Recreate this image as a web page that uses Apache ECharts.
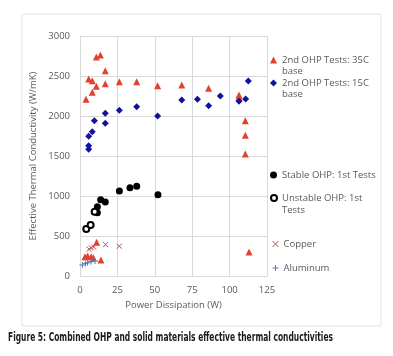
<!DOCTYPE html>
<html><head><meta charset="utf-8">
<script src="https://cdn.jsdelivr.net/npm/echarts@6/dist/echarts.min.js"></script>
<style>html,body{margin:0;padding:0;background:#fff}#c{width:393px;height:356px}</style>
</head><body><div id="c"></div>
<script>
// ---- data ----
const xTicks = [0, 25, 50, 75, 100, 125];
const yTicks = [0, 500, 1000, 1500, 2000, 2500, 3000];
const ohp35C = [[4.0,2210],[5.8,2462],[8.2,2441],[8.2,2296],[10.9,2371],[10.9,2737],[13.6,2762],[16.9,2566],[16.9,2404],[26.3,2429],[37.9,2429],[51.9,2379],[68,2387],[86,2346],[106.3,2262],[106.3,2233],[110.5,1941],[110.5,1759],[110.5,1525],[113,300],[3.3,242],[5.1,250],[7.4,242],[8.9,229],[11.1,421],[14,200]];
const ohp15C = [[5.8,1746],[5.8,1629],[5.8,1583],[8.2,1804],[9.6,1942],[16.9,2034],[16.9,1908],[26.3,2071],[37.9,2117],[51.9,2000],[68,2200],[78.5,2209],[86,2129],[93.8,2250],[106.3,2183],[110.7,2212],[112.5,2437]];
const stableOHP = [[11.6,791],[11.6,866],[13.8,954],[16.9,925],[26.3,1062],[33.4,1104],[37.9,1121],[52.1,1016]];
const unstableOHP = [[4.2,587],[7.1,637],[9.8,802]];
const copper = [[6,335],[7.5,352],[9.2,362],[17.1,392],[26.3,372]];
const aluminum = [[1.6,138],[3.6,155],[5.1,166],[7.4,179],[10,187]];
const seriesNames = ['2nd OHP Tests: 35C', '2nd OHP Tests: 15C', 'Stable OHP: 1st Tests', 'Unstable OHP: 1st', 'Copper', 'Aluminum'];
const caption = 'Figure 5: Combined OHP and solid materials effective thermal conductivities';

// ---- chart ----
const FONT = '"Open Sans", "Liberation Sans", sans-serif';
const GRAY = '#595959';
const crossPath = 'path://M0,0L10,10M10,0L0,10';
const plusPath = 'path://M5,0L5,10M0,5L10,5';

const chart = echarts.init(document.getElementById('c'), null, {renderer: 'canvas'});

function legendAt(name, top, size, extra) {
  return Object.assign({
    data: [name], left: 270, top: top, padding: 0, itemWidth: size || 7, itemHeight: size || 7,
    textStyle: {fontFamily: FONT, fontSize: 9.5, color: GRAY, lineHeight: 12},
    selectedMode: false
  }, extra || {});
}

// caption width fit
const cv = document.createElement('canvas').getContext('2d');
const capFont = 'bold 13px "Liberation Sans Narrow", "DejaVu Sans Condensed", sans-serif';
cv.font = capFont;
const capW = cv.measureText(caption).width;
const capScale = 325 / capW;

chart.setOption({
  animation: false,
  grid: {left: 80, right: 126, top: 36, bottom: 80},
  xAxis: {
    type: 'value', min: xTicks[0], max: xTicks[xTicks.length-1], interval: 25,
    name: 'Power Dissipation (W)', nameLocation: 'middle', nameGap: 23,
    nameTextStyle: {fontFamily: FONT, fontSize: 9.5, color: GRAY},
    axisLine: {show: true, lineStyle: {color: '#d9d9d9'}},
    axisTick: {show: false},
    axisLabel: {fontFamily: FONT, fontSize: 9.5, color: GRAY, margin: 9, formatter: v => String(v)},
    splitLine: {show: true, lineStyle: {color: '#d9d9d9'}}
  },
  yAxis: {
    type: 'value', min: yTicks[0], max: yTicks[yTicks.length-1], interval: 500,
    name: 'Effective Thermal Conductivity (W/mK)', nameLocation: 'middle', nameGap: 42,
    nameTextStyle: {fontFamily: FONT, fontSize: 9.5, color: GRAY},
    axisLine: {show: true, lineStyle: {color: '#d9d9d9'}},
    axisTick: {show: false},
    axisLabel: {fontFamily: FONT, fontSize: 9.5, color: GRAY, margin: 10, formatter: v => String(v)},
    splitLine: {show: true, lineStyle: {color: '#d9d9d9'}}
  },
  legend: [
    legendAt(seriesNames[0], 54),
    legendAt(seriesNames[1], 77),
    legendAt(seriesNames[2], 169),
    legendAt(seriesNames[3], 192, 6, {itemStyle: {borderWidth: 1}}),
    legendAt(seriesNames[4], 238, 6, {itemStyle: {borderWidth: 1}}),
    legendAt(seriesNames[5], 262, 6, {itemStyle: {borderWidth: 1}})
  ],
  graphic: [
    {type: 'rect', left: 19.5, top: 11.5, shape: {x: 0, y: 0, width: 359, height: 312},
     style: {fill: 'none', stroke: '#e3e3e3', lineWidth: 1}, silent: true},
    {type: 'text', left: 282, top: 66, style: {text: 'base', font: '9.5px ' + FONT, fill: GRAY}},
    {type: 'text', left: 282, top: 89, style: {text: 'base', font: '9.5px ' + FONT, fill: GRAY}},
    {type: 'text', left: 282, top: 205, style: {text: 'Tests', font: '9.5px ' + FONT, fill: GRAY}},
    {type: 'text', x: 8, y: 338, scaleX: capScale, style: {text: caption, font: capFont, fill: '#1a1a1a', textVerticalAlign: 'middle'}}
  ],
  series: [
    {name: seriesNames[0], type: 'scatter', data: ohp35C, symbol: 'triangle', symbolSize: 7,
     itemStyle: {color: '#e5402e', opacity: 1}},
    {name: seriesNames[1], type: 'scatter', data: ohp15C, symbol: 'diamond', symbolSize: 7,
     itemStyle: {color: '#1212a0', opacity: 1}},
    {name: seriesNames[2], type: 'scatter', data: stableOHP, symbol: 'circle', symbolSize: 7,
     itemStyle: {color: '#000000', opacity: 1}},
    {name: seriesNames[3], type: 'scatter', data: unstableOHP, symbol: 'emptyCircle', symbolSize: 6,
     itemStyle: {color: '#000000', borderColor: '#000000', borderWidth: 0.8, opacity: 1}},
    {name: seriesNames[4], type: 'scatter', data: copper, symbol: crossPath, symbolSize: 5,
     itemStyle: {color: 'none', borderColor: '#c0504d', borderWidth: 1, opacity: 1}},
    {name: seriesNames[5], type: 'scatter', data: aluminum, symbol: plusPath, symbolSize: 6,
     itemStyle: {color: 'none', borderColor: '#4a7ebb', borderWidth: 1, opacity: 1}}
  ]
});
</script>
</body></html>
